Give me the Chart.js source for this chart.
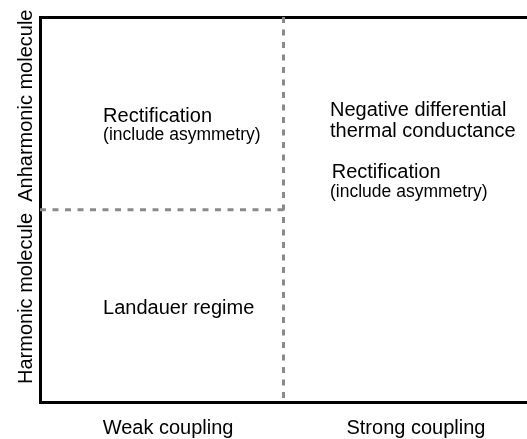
<!DOCTYPE html>
<html>
<head>
<meta charset="utf-8">
<script src="https://cdn.jsdelivr.net/npm/chart.js@4.4.0/dist/chart.umd.min.js"></script>
<style>
  html, body { margin: 0; padding: 0; background: #ffffff; }
  #wrap { width: 527px; height: 439px; }
</style>
</head>
<body>
<div id="wrap"><canvas id="c" width="527" height="439"></canvas></div>
<script>
// ---- data ----
const xCategories = ['Weak coupling', 'Strong coupling'];
const xCategoryCenters = [0.526, 1.544];
const yCategories = ['Anharmonic molecule', 'Harmonic molecule'];
const yCategoryCenters = [1.54, 0.54];
const xDivider = 1;
const yDivider = 1;
const regionTexts = ['Rectification', '(include asymmetry)', 'Negative differential', 'thermal conductance', 'Rectification', '(include asymmetry)', 'Landauer regime'];
const regionTextX = [0.259, 0.259, 1.191, 1.191, 1.198, 1.191, 0.259];
const regionTextY = [1.455, 1.36, 1.486, 1.379, 1.165, 1.068, 0.459];
const regionTextSmall = [false, true, false, false, false, true, false];

const FONT = "'Liberation Sans', Arial, Helvetica, sans-serif";

const textPlugin = {
  id: 'textPlugin',
  afterDraw(chart) {
    const ctx = chart.ctx;
    const xs = chart.scales.x, ys = chart.scales.y;
    ctx.save();
    ctx.fillStyle = '#000000';
    ctx.textBaseline = 'alphabetic';
    // region texts
    ctx.textAlign = 'left';
    regionTexts.forEach((t, i) => {
      ctx.font = (regionTextSmall[i] ? '17.5px ' : '20px ') + FONT;
      ctx.fillText(t, xs.getPixelForValue(regionTextX[i]), ys.getPixelForValue(regionTextY[i]));
    });
    // x category labels
    ctx.font = '20px ' + FONT;
    ctx.textAlign = 'center';
    xCategories.forEach((t, i) => {
      ctx.fillText(t, xs.getPixelForValue(xCategoryCenters[i]), chart.chartArea.bottom + 31.5);
    });
    // y category labels (rotated)
    yCategories.forEach((t, i) => {
      ctx.save();
      ctx.translate(chart.chartArea.left - 8.5, ys.getPixelForValue(yCategoryCenters[i]));
      ctx.rotate(-Math.PI / 2);
      ctx.fillText(t, 0, 0);
      ctx.restore();
    });
    ctx.restore();
  }
};

const dashStyle = { borderColor: '#8a8a8a', borderWidth: 3, borderDash: [6, 6.5], pointRadius: 0, fill: false, tension: 0 };

new Chart(document.getElementById('c'), {
  type: 'line',
  data: {
    datasets: [
      Object.assign({ label: 'v', data: [{ x: xDivider, y: 2 }, { x: xDivider, y: 0 }] }, dashStyle),
      Object.assign({ label: 'h', data: [{ x: 0, y: yDivider }, { x: xDivider, y: yDivider }] }, dashStyle)
    ]
  },
  options: {
    responsive: false,
    animation: false,
    layout: { padding: { left: 40, top: 17, right: 0, bottom: 36.5 } },
    plugins: { legend: { display: false }, tooltip: { enabled: false } },
    scales: {
      x: {
        type: 'linear', position: 'bottom', min: 0, max: 2,
        grid: { display: false, drawTicks: false },
        ticks: { display: false },
        border: { display: true, color: '#000000', width: 3 }
      },
      xTop: {
        type: 'linear', position: 'top', min: 0, max: 2,
        grid: { display: false, drawTicks: false },
        ticks: { display: false },
        border: { display: true, color: '#000000', width: 3 }
      },
      y: {
        type: 'linear', position: 'left', min: 0, max: 2,
        grid: { display: false, drawTicks: false },
        ticks: { display: false },
        border: { display: true, color: '#000000', width: 3 }
      }
    }
  },
  plugins: [textPlugin]
});
</script>
</body>
</html>
